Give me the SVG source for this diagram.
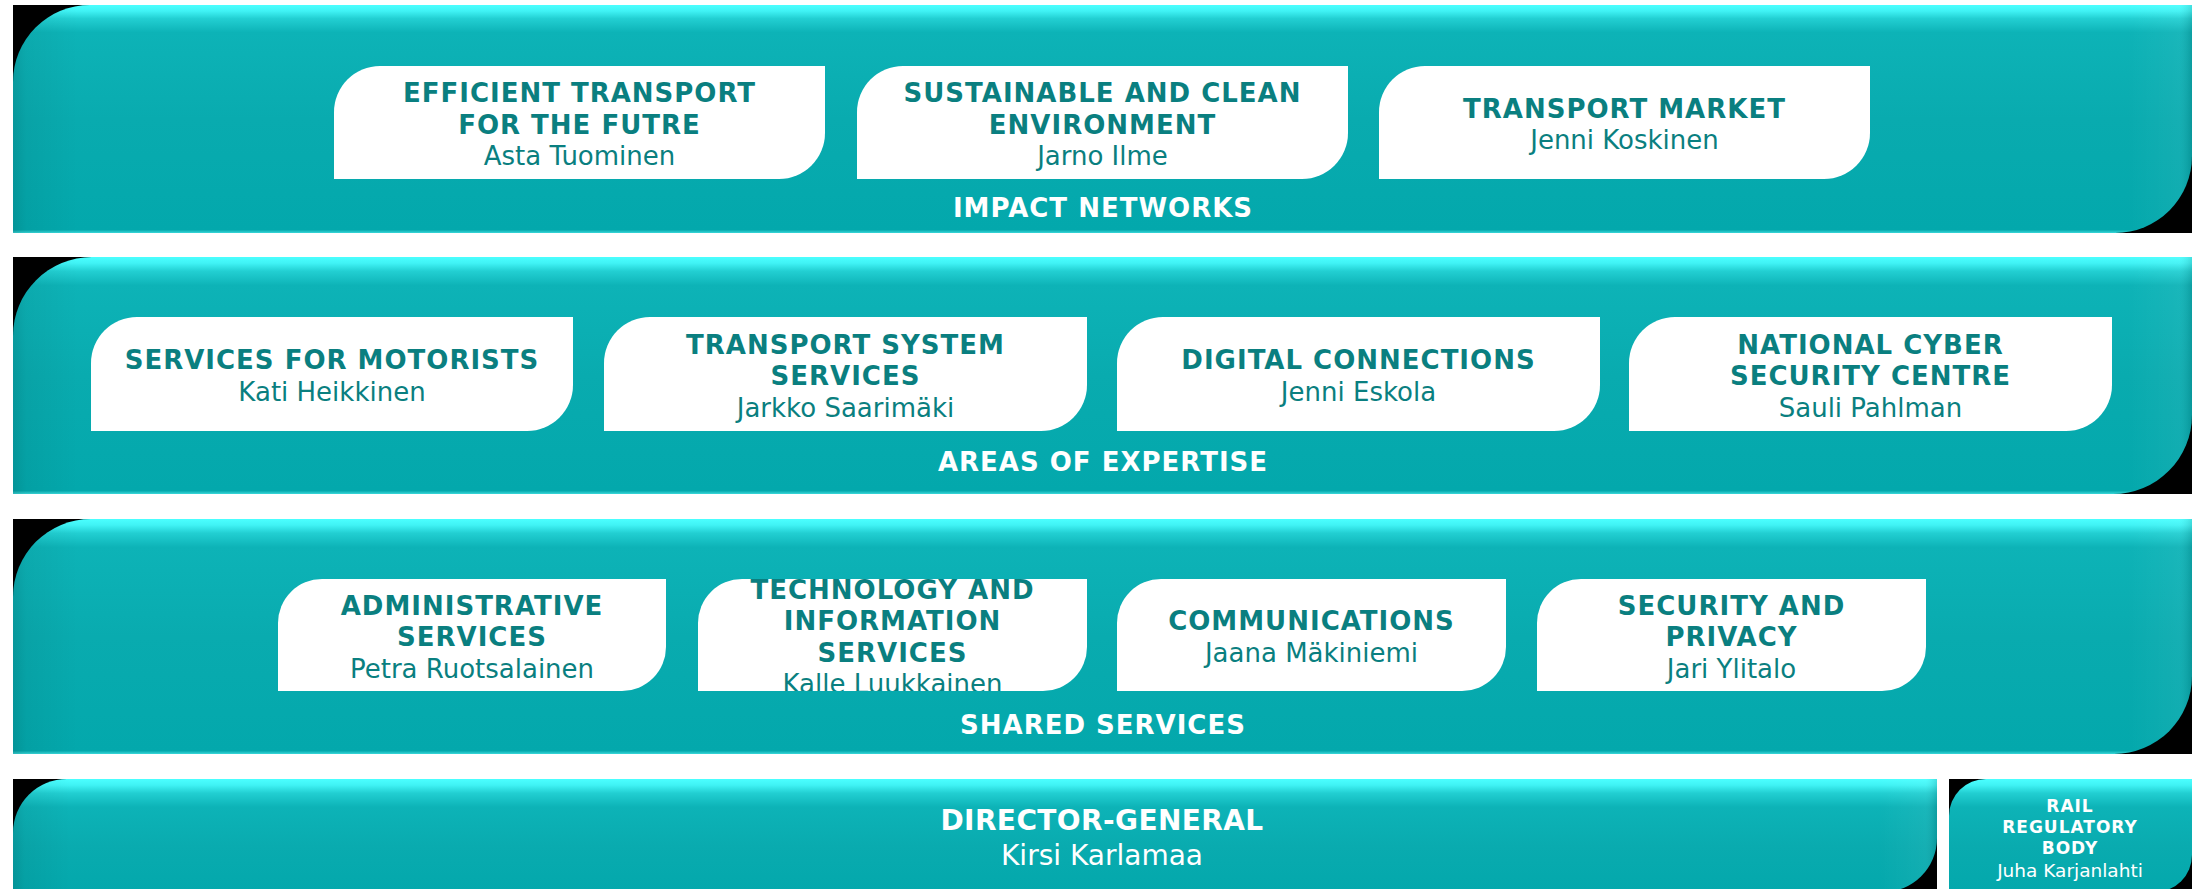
<svg xmlns="http://www.w3.org/2000/svg" width="2193" height="889" viewBox="0 0 2193 889">
<style>
.title{font-family:"DejaVu Sans",Verdana,sans-serif;font-weight:bold;font-size:26px;letter-spacing:1px;fill:#0A7F80;text-anchor:middle}
.name{font-family:"DejaVu Sans",Verdana,sans-serif;font-size:26px;fill:#0A7F80;text-anchor:middle}
.label{font-family:"DejaVu Sans",Verdana,sans-serif;font-weight:bold;font-size:26px;letter-spacing:1px;fill:#FFFFFF;text-anchor:middle}
.dgt{font-family:"DejaVu Sans",Verdana,sans-serif;font-weight:bold;font-size:28px;letter-spacing:0.4px;fill:#FFFFFF;text-anchor:middle}
.dgn{font-family:"DejaVu Sans",Verdana,sans-serif;font-size:28px;fill:#FFFFFF;text-anchor:middle}
.rt{font-family:"DejaVu Sans",Verdana,sans-serif;font-weight:bold;font-size:17px;letter-spacing:1px;fill:#FFFFFF;text-anchor:middle}
.rn{font-family:"DejaVu Sans",Verdana,sans-serif;font-size:18.5px;fill:#FFFFFF;text-anchor:middle}
.box{fill:#FFFFFF}
.shadow{fill:#000000}
.bandBig{fill:url(#gBig)}
.bandSmall{fill:url(#gSmall)}
.bevel{fill:url(#gBevel)}
</style>
<defs>
<linearGradient id="gBig" x1="0" y1="0" x2="0" y2="1">
<stop offset="0" stop-color="#4BFFFF"/>
<stop offset="0.026" stop-color="#40F3F5"/>
<stop offset="0.06" stop-color="#22CFD2"/>
<stop offset="0.12" stop-color="#0DB3B7"/>
<stop offset="0.5" stop-color="#09ABAF"/>
<stop offset="0.986" stop-color="#03A8AC"/>
<stop offset="1" stop-color="#3AD8DA"/>
</linearGradient>
<linearGradient id="gSmall" x1="0" y1="0" x2="0" y2="1">
<stop offset="0" stop-color="#4BFFFF"/>
<stop offset="0.053" stop-color="#40F3F5"/>
<stop offset="0.124" stop-color="#22CFD2"/>
<stop offset="0.248" stop-color="#0DB3B7"/>
<stop offset="0.6" stop-color="#09ABAF"/>
<stop offset="1" stop-color="#03A8AC"/>
</linearGradient>
<linearGradient id="gBevel" x1="0" y1="0" x2="1" y2="0">
<stop offset="0" stop-color="#000000" stop-opacity="0.12"/>
<stop offset="0.006" stop-color="#000000" stop-opacity="0.05"/>
<stop offset="0.03" stop-color="#000000" stop-opacity="0"/>
<stop offset="0.97" stop-color="#FFFFFF" stop-opacity="0"/>
<stop offset="0.994" stop-color="#FFFFFF" stop-opacity="0.05"/>
<stop offset="1" stop-color="#000000" stop-opacity="0.12"/>
</linearGradient>
<clipPath id="clipTech"><rect x="698" y="579" width="389" height="112"/></clipPath>
</defs>

<!-- Band 1: Impact networks -->
<g id="impact-networks">
<rect class="shadow" x="13" y="5" width="2179" height="228"/>
<path class="bandBig" d="M90,5 H2192 V156 A77,77 0 0 1 2115,233 H13 V82 A77,77 0 0 1 90,5 Z"/>
<path class="bevel" d="M90,5 H2192 V156 A77,77 0 0 1 2115,233 H13 V82 A77,77 0 0 1 90,5 Z"/>
<text class="label" x="1103" y="216.5">IMPACT NETWORKS</text>
</g>
<g id="efficient-transport">
<path class="box" d="M380,66 H825 V133 A46,46 0 0 1 779,179 H334 V112 A46,46 0 0 1 380,66 Z"/>
<text class="title" x="579.5" y="102">EFFICIENT TRANSPORT</text>
<text class="title" x="579.5" y="133.5">FOR THE FUTRE</text>
<text class="name" x="579.5" y="165">Asta Tuominen</text>
</g>
<g id="sustainable-environment">
<path class="box" d="M903,66 H1348 V133 A46,46 0 0 1 1302,179 H857 V112 A46,46 0 0 1 903,66 Z"/>
<text class="title" x="1102.5" y="102">SUSTAINABLE AND CLEAN</text>
<text class="title" x="1102.5" y="133.5">ENVIRONMENT</text>
<text class="name" x="1102.5" y="165">Jarno Ilme</text>
</g>
<g id="transport-market">
<path class="box" d="M1425,66 H1870 V133 A46,46 0 0 1 1824,179 H1379 V112 A46,46 0 0 1 1425,66 Z"/>
<text class="title" x="1624.5" y="117.75">TRANSPORT MARKET</text>
<text class="name" x="1624.5" y="149.25">Jenni Koskinen</text>
</g>

<!-- Band 2: Areas of expertise -->
<g id="areas-of-expertise">
<rect class="shadow" x="13" y="257" width="2179" height="237"/>
<path class="bandBig" d="M92,257 H2192 V415 A79,79 0 0 1 2113,494 H13 V336 A79,79 0 0 1 92,257 Z"/>
<path class="bevel" d="M92,257 H2192 V415 A79,79 0 0 1 2113,494 H13 V336 A79,79 0 0 1 92,257 Z"/>
<text class="label" x="1103" y="471">AREAS OF EXPERTISE</text>
</g>
<g id="services-for-motorists">
<path class="box" d="M137,317 H573 V385 A46,46 0 0 1 527,431 H91 V363 A46,46 0 0 1 137,317 Z"/>
<text class="title" x="332" y="369.25">SERVICES FOR MOTORISTS</text>
<text class="name" x="332" y="400.75">Kati Heikkinen</text>
</g>
<g id="transport-system-services">
<path class="box" d="M650,317 H1087 V385 A46,46 0 0 1 1041,431 H604 V363 A46,46 0 0 1 650,317 Z"/>
<text class="title" x="845.5" y="353.5">TRANSPORT SYSTEM</text>
<text class="title" x="845.5" y="385">SERVICES</text>
<text class="name" x="845.5" y="416.5">Jarkko Saarimäki</text>
</g>
<g id="digital-connections">
<path class="box" d="M1163,317 H1600 V385 A46,46 0 0 1 1554,431 H1117 V363 A46,46 0 0 1 1163,317 Z"/>
<text class="title" x="1358.5" y="369.25">DIGITAL CONNECTIONS</text>
<text class="name" x="1358.5" y="400.75">Jenni Eskola</text>
</g>
<g id="national-cyber-security-centre">
<path class="box" d="M1675,317 H2112 V385 A46,46 0 0 1 2066,431 H1629 V363 A46,46 0 0 1 1675,317 Z"/>
<text class="title" x="1870.5" y="353.5">NATIONAL CYBER</text>
<text class="title" x="1870.5" y="385">SECURITY CENTRE</text>
<text class="name" x="1870.5" y="416.5">Sauli Pahlman</text>
</g>

<!-- Band 3: Shared services -->
<g id="shared-services">
<rect class="shadow" x="13" y="519" width="2179" height="235"/>
<path class="bandBig" d="M91,519 H2192 V676 A78,78 0 0 1 2114,754 H13 V597 A78,78 0 0 1 91,519 Z"/>
<path class="bevel" d="M91,519 H2192 V676 A78,78 0 0 1 2114,754 H13 V597 A78,78 0 0 1 91,519 Z"/>
<text class="label" x="1103" y="734">SHARED SERVICES</text>
</g>
<g id="administrative-services">
<path class="box" d="M322,579 H666 V647 A44,44 0 0 1 622,691 H278 V623 A44,44 0 0 1 322,579 Z"/>
<text class="title" x="472" y="614.5">ADMINISTRATIVE</text>
<text class="title" x="472" y="646">SERVICES</text>
<text class="name" x="472" y="677.5">Petra Ruotsalainen</text>
</g>
<g id="technology-information-services">
<path class="box" d="M742,579 H1087 V647 A44,44 0 0 1 1043,691 H698 V623 A44,44 0 0 1 742,579 Z"/>
<g clip-path="url(#clipTech)">
<text class="title" x="892.5" y="598.75">TECHNOLOGY AND</text>
<text class="title" x="892.5" y="630.25">INFORMATION</text>
<text class="title" x="892.5" y="661.75">SERVICES</text>
<text class="name" x="892.5" y="693.25">Kalle Luukkainen</text>
</g>
</g>
<g id="communications">
<path class="box" d="M1161,579 H1506 V647 A44,44 0 0 1 1462,691 H1117 V623 A44,44 0 0 1 1161,579 Z"/>
<text class="title" x="1311.5" y="630.25">COMMUNICATIONS</text>
<text class="name" x="1311.5" y="661.75">Jaana Mäkiniemi</text>
</g>
<g id="security-and-privacy">
<path class="box" d="M1581,579 H1926 V647 A44,44 0 0 1 1882,691 H1537 V623 A44,44 0 0 1 1581,579 Z"/>
<text class="title" x="1731.5" y="614.5">SECURITY AND</text>
<text class="title" x="1731.5" y="646">PRIVACY</text>
<text class="name" x="1731.5" y="677.5">Jari Ylitalo</text>
</g>

<!-- Band 4: Director-General -->
<g id="director-general">
<rect class="shadow" x="13" y="779" width="1924" height="113"/>
<path class="bandSmall" d="M67,779 H1937 V838 A54,54 0 0 1 1883,892 H13 V833 A54,54 0 0 1 67,779 Z"/>
<path class="bevel" d="M67,779 H1937 V838 A54,54 0 0 1 1883,892 H13 V833 A54,54 0 0 1 67,779 Z"/>
<text class="dgt" x="1102" y="830">DIRECTOR-GENERAL</text>
<text class="dgn" x="1102" y="865">Kirsi Karlamaa</text>
</g>
<g id="rail-regulatory-body">
<rect class="shadow" x="1949" y="779" width="243" height="113"/>
<path class="bandSmall" d="M1986,779 H2192 V855 A37,37 0 0 1 2155,892 H1949 V816 A37,37 0 0 1 1986,779 Z"/>
<text class="rt" x="2070" y="812">RAIL</text>
<text class="rt" x="2070" y="833">REGULATORY</text>
<text class="rt" x="2070" y="854">BODY</text>
<text class="rn" x="2070" y="877">Juha Karjanlahti</text>
</g>

<g id="connectors"/>
</svg>
